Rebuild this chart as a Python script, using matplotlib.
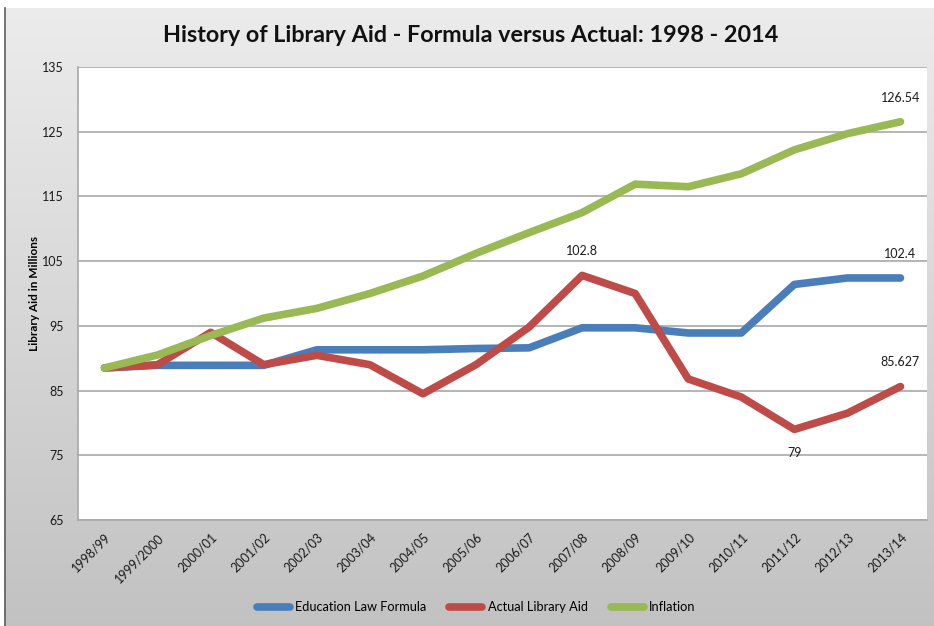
#!/usr/bin/env python3

import matplotlib
matplotlib.use('Agg')
import matplotlib.pyplot as plt
import numpy as np

years = ['1998/99', '1999/2000', '2000/01', '2001/02', '2002/03', '2003/04',
         '2004/05', '2005/06', '2006/07', '2007/08', '2008/09', '2009/10',
         '2010/11', '2011/12', '2012/13', '2013/14']

formula = [88.5, 88.9, 88.9, 88.9, 91.3, 91.3, 91.3, 91.5, 91.6, 94.7,
           94.7, 93.9, 93.9, 101.4, 102.4, 102.4]
actual = [88.5, 89.0, 94.0, 89.0, 90.45, 89.0, 84.5, 89.0, 94.8, 102.8,
          100.0, 86.8, 84.0, 79.0, 81.5, 85.627]
inflation = [88.5, 90.5, 93.5, 96.2, 97.7, 100.0, 102.7, 106.2, 109.4,
             112.5, 116.9, 116.5, 118.5, 122.2, 124.7, 126.54]

yticks = [65, 75, 85, 95, 105, 115, 125, 135]

plt.rcParams['font.family'] = ['Lato', 'DejaVu Sans']

W, H = 934, 626
fig = plt.figure(figsize=(W / 100, H / 100), dpi=100)
fig.patch.set_facecolor('white')

# gray gradient background of the chart frame
bg = fig.add_axes([4 / W, 0, 1 - 4 / W, 1 - 8 / H], zorder=-10)
grad = np.linspace(0.925, 0.76, 256).reshape(-1, 1)
bg.imshow(np.dstack([grad, grad, grad]), aspect='auto', extent=[0, 1, 0, 1])
bg.set_axis_off()
fig.add_artist(plt.Line2D([4.5 / W, 4.5 / W], [0, 1 - 8 / H], color='#606060', lw=1.2))

ax = fig.add_axes([78 / W, 1 - 520 / H, (927 - 78) / W, (520 - 67) / H])
ax.set_facecolor('white')

x = np.arange(len(years))
blue, red, green = '#4a7ebb', '#be4b48', '#98b954'
ax.plot(x, formula, color=blue, lw=5.5, solid_capstyle='round', label='Education Law Formula', zorder=3)
ax.plot(x, actual, color=red, lw=5.5, solid_capstyle='round', label='Actual Library Aid', zorder=4)
ax.plot(x, inflation, color=green, lw=5.5, solid_capstyle='round', label='Inflation', zorder=5)

ax.set_xlim(-0.5, len(years) - 0.5)
ax.set_ylim(65, 135)
ax.set_yticks(yticks)
ax.set_xticks(x)
ax.set_xticklabels(years, rotation=45, ha='right', va='top', rotation_mode='anchor')
ax.tick_params(length=0, labelsize=9, colors='#1a1a1a')
ax.tick_params(axis='x', pad=8)
ax.tick_params(axis='y', pad=10)
ax.grid(axis='y', color='#a8a8a8', lw=1.2, zorder=0)
for s in ['top', 'right']:
    ax.spines[s].set_visible(False)
for s in ['left', 'bottom']:
    ax.spines[s].set_color('#a8a8a8')
    ax.spines[s].set_linewidth(1.2)

ax.set_ylabel('Library Aid in Millions', fontsize=8.5, fontweight='bold', labelpad=2)

lab = dict(fontsize=9, ha='center', color='#1a1a1a')
ax.annotate('126.54', (x[15], inflation[15]), xytext=(0, 13), textcoords='offset points', va='bottom', **lab)
ax.annotate('102.4', (x[15], formula[15]), xytext=(0, 13), textcoords='offset points', va='bottom', **lab)
ax.annotate('102.8', (x[9], actual[9]), xytext=(0, 13), textcoords='offset points', va='bottom', **lab)
ax.annotate('85.627', (x[15], actual[15]), xytext=(0, 13), textcoords='offset points', va='bottom', **lab)
ax.annotate('79', (x[13], actual[13]), xytext=(0, -13), textcoords='offset points', va='top', **lab)

fig.text(471 / W, 1 - 35 / H, 'History of Library Aid - Formula versus Actual: 1998 - 2014',
         ha='center', va='center', fontsize=16.8, fontweight='bold', color='#111111')

fig.legend(loc='center', bbox_to_anchor=(476 / W, 1 - 607 / H), ncol=3, frameon=False,
           fontsize=9.2, handlelength=2.6, columnspacing=1.8, handletextpad=0.4)

fig.savefig('out.png', dpi=100)
